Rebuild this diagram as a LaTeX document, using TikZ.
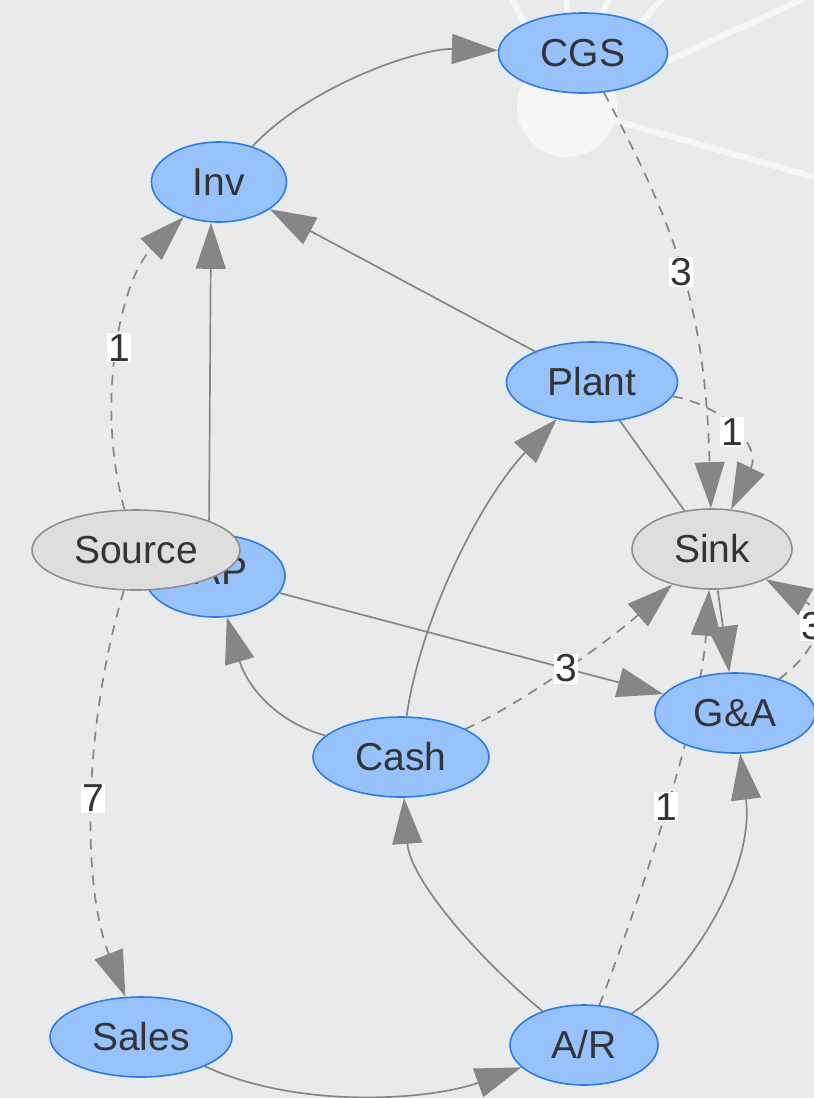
\documentclass[tikz,border=0pt]{standalone}
\usepackage{fontspec}
\setmainfont{Liberation Sans}
\usetikzlibrary{arrows.meta,shapes.geometric,backgrounds}

\definecolor{canvas}{HTML}{E9EAEC}
\definecolor{acctfill}{HTML}{97C2FC}
\definecolor{acctline}{HTML}{2B7CE9}
\definecolor{termfill}{HTML}{DEDEDE}
\definecolor{termline}{HTML}{8F8F8F}
\definecolor{edgegray}{HTML}{868686}
\definecolor{ink}{HTML}{343434}
\definecolor{chalk}{HTML}{F7F7F5}

\tikzset{
  acct/.style={ellipse, draw=acctline, fill=acctfill, line width=0.8pt,
    minimum height=40pt, inner sep=0pt, text=ink},
  term/.style={acct, draw=termline, fill=termfill},
  link/.style={draw=edgegray, line width=0.85pt},
  flow/.style={link, -{Triangle[length=23pt,width=15pt]}},
  plug/.style={flow, dash pattern=on 5pt off 4pt},
  lbl/.style={fill=white, inner sep=0.6pt, text=ink, pos=0.5},
}

\begin{document}
\begin{tikzpicture}[x=0.5pt, y=-0.5pt, font=\fontsize{19.5}{22}\selectfont]
    \useasboundingbox (0,0) rectangle (814,1098);

    % accounts
    \node[acct, minimum width=84.5pt] (cgs) at (583,53) {CGS};
    \node[acct, minimum width=67.5pt] (inv) at (219,182) {Inv};
    \node[acct, minimum width=85.5pt] (plant) at (592,382) {Plant};
    \node[term, minimum width=80pt] (sink) at (712,549) {Sink};
    \node[acct, minimum width=70pt, minimum height=41pt,
        label={[xshift=3pt, yshift=2.5pt, text=ink]center:AP}] (ap) at (215,576) {};
    \node[term, minimum width=104pt] (source) at (136,550) {Source};
    \node[acct, minimum width=88pt] (cash) at (401,757) {Cash};
    \node[acct, minimum width=80pt] (ga) at (735,713) {G\&A};
    \node[acct, minimum width=91pt] (sales) at (141,1037) {Sales};
    \node[acct, minimum width=74pt] (ar) at (584,1045) {A/R};

    \begin{pgfonlayer}{background}
    \fill[canvas] (0,0) rectangle (814,1098);
    \draw[chalk, line width=3pt] (567,107) -- (814,-6)
        (567,107) -- (814,177) (567,107) -- (505,-15)
        (567,107) -- (567,-20) (567,107) -- (616,-20)
        (567,107) -- (674,-15);
    \fill[chalk] (567,107) circle (50);

    % flows
    \draw[flow] (inv) .. controls (310,85) and (420,48) .. (cgs);
    \draw[plug] (source) .. controls (95,405) and (120,280) .. node[lbl] {1} (inv);
    \draw[flow] ([xshift=-3pt]ap.north) -- ([xshift=-4pt]inv.south);
    \draw[flow] (plant) -- (inv);
    \draw[plug] (cgs) .. controls (673,223) and (705,301) .. node[lbl] {3} (sink);
    \draw[plug] (plant) .. controls (722,405) and (762,445) .. node[lbl] {1} (sink);
    \draw[link] (plant) -- (sink);
    \draw[flow] (ap) -- (ga);
    \draw[plug] (cash) .. controls (520,705) and (610,640) .. node[lbl] {3} (sink);
    \draw[flow] (cash) .. controls (270,720) and (245,680) .. (ap);
    \draw[flow] (cash) .. controls (420,620) and (480,500) .. (plant);
    \draw[plug] (source) .. controls (85,720) and (80,880) .. node[lbl] {7} (sales);
    \draw[flow] (sales) .. controls (300,1110) and (430,1100) .. (ar);
    \draw[flow] (ar) .. controls (480,960) and (410,880) .. (cash);
    \draw[flow] (ar) .. controls (690,975) and (755,870) .. (ga);
    \draw[plug] (ar) .. controls (640,900) and (700,720) .. node[lbl] {1} (sink);
    \draw[flow] (sink) -- (ga);
    \draw[plug] (ga) .. controls (830,640) and (820,610) .. node[lbl] {3} (sink);
    \end{pgfonlayer}
\end{tikzpicture}
\end{document}
